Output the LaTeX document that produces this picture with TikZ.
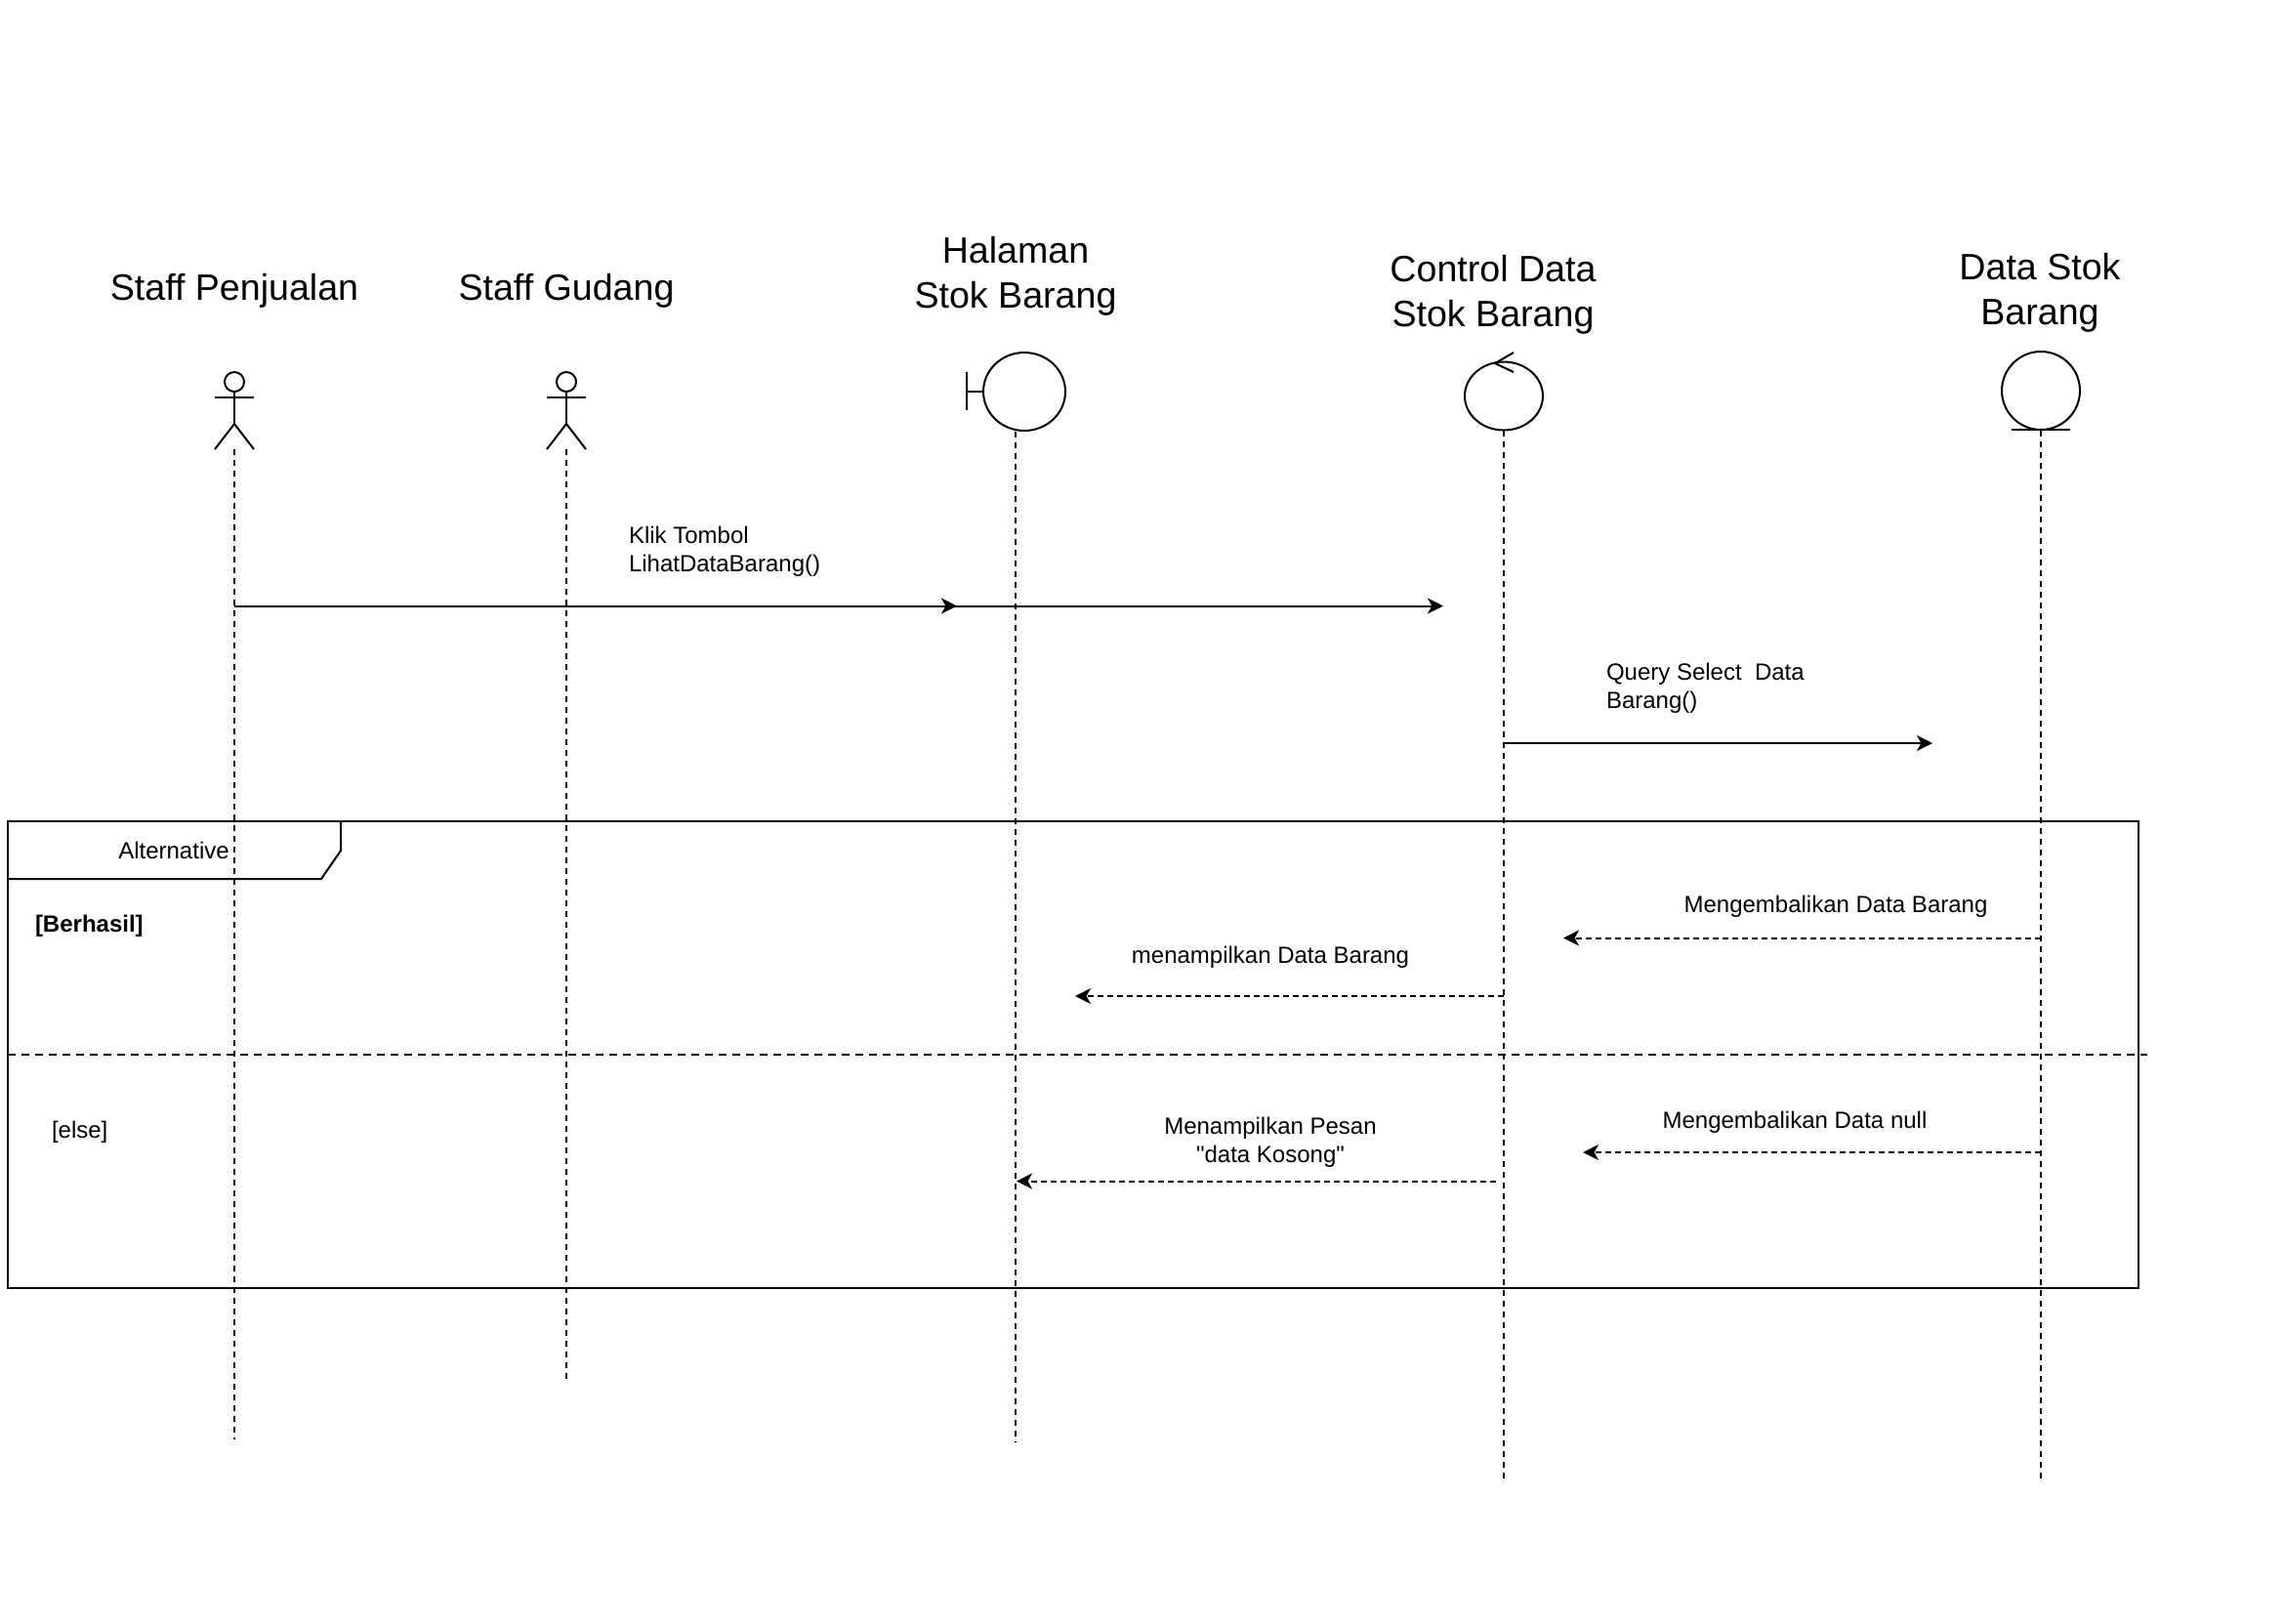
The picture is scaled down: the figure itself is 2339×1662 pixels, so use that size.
\documentclass[tikz,border=0pt]{standalone}
\usepackage{fontspec}
\setmainfont{Liberation Sans}
\usetikzlibrary{arrows.meta}
\newcommand\mydq{\XeTeXglyph\XeTeXglyphindex "quotedbl" \relax}
\begin{document}
\begin{tikzpicture}[x=0.5pt,y=-0.5pt,line width=1pt,
  title/.style={font=\fontsize{18.8}{23}\selectfont, align=center, inner sep=0pt},
  lbl/.style={font=\fontsize{12}{14.4}\selectfont, align=center, inner sep=0pt},
  lblL/.style={font=\fontsize{12}{14.4}\selectfont, align=left, inner sep=0pt, anchor=west},
  lifeline/.style={line width=0.8pt, dash pattern=on 3pt off 2.5pt},
  msg/.style={-{Stealth[length=8pt,width=8pt,inset=2.2pt]}},
  ret/.style={msg, dash pattern=on 3pt off 2pt},
  actor/.pic={
    \draw (0,0) circle[radius=5pt];
    \draw (-20,16) -- (20,16);
    \draw (0,10) -- (0,43);
    \draw (-20,69) -- (0,43) -- (20,69);
  }]
\fill[white] (0,0) rectangle (2339,1662);
\useasboundingbox (0,0) rectangle (2339,1662);

% titles
\node[title] (t1) at (240,298) {Staff Penjualan};
\node[title] (t2) at (580,298) {Staff Gudang};
\node[title] (t3) at (1040,282.5) {Halaman\\Stok Barang};
\node[title] (t4) at (1529,302) {Control Data\\Stok Barang};
\node[title] (t5) at (2089,299.5) {Data Stok\\Barang};

% actors
\pic at (240,391) {actor};
\pic at (580,391) {actor};

% boundary
\draw (990,381) -- (990,420);
\draw (990,401) -- (1007,401);
\draw (1049,401) ellipse [x radius=21pt, y radius=20pt];

% control
\draw (1540,405.5) ellipse [x radius=20pt, y radius=17.5pt];
\draw (1550,361) -- (1531,372) -- (1550,381);

% entity
\draw (2090,400) circle [radius=20pt];
\draw (2060,440) -- (2120,440);

% lifelines
\coordinate (l1t) at (240,460);  \coordinate (l1b) at (240,1474);
\coordinate (l2t) at (580,460);  \coordinate (l2b) at (580,1413);
\coordinate (l3t) at (1040,442); \coordinate (l3b) at (1040,1477);
\coordinate (l4t) at (1540,441); \coordinate (l4b) at (1540,1514);
\coordinate (l5t) at (2090,441); \coordinate (l5b) at (2090,1514);
\draw[lifeline] (l1t) -- (l1b);
\draw[lifeline] (l2t) -- (l2b);
\draw[lifeline] (l3t) -- (l3b);
\draw[lifeline] (l4t) -- (l4b);
\draw[lifeline] (l5t) -- (l5b);

% message 1
\coordinate (m1s) at (240,620.5);
\coordinate (m1a) at (980,620.5);
\coordinate (m1b) at (1478,620.5);
\draw[msg] (m1s) -- (m1b);
\draw[msg] (m1s) -- (m1a);
\node[lblL] (k1) at (643,564.5) {Klik Tombol\\LihatDataBarang()};

% message 2
\coordinate (m2s) at (1540,761);
\coordinate (m2e) at (1979,761);
\draw[msg] (m2s) -- (m2e);
\node[lblL] (k2) at (1644,705) {Query Select\ \ Data\\Barang()};

% alt frame
\draw (8,841) rectangle (2190,1319);
\draw (8,900) -- (329,900) -- (349,871) -- (349,841);
\node[lbl] (alt) at (178,871) {Alternative};
\node[lblL, font=\fontsize{12}{14.4}\selectfont\bfseries] (g1) at (35,948) {[Berhasil]};
\draw[dash pattern=on 4pt off 3pt] (8,1080) -- (2199,1080);
\node[lblL] (g2) at (52,1159) {[else]};

% returns
\coordinate (r1s) at (2090,960.5); \coordinate (r1e) at (1601,960.5);
\draw[ret] (r1s) -- (r1e);
\node[lbl] (k3) at (1880,928) {Mengembalikan Data Barang};

\coordinate (r2s) at (1540,1020); \coordinate (r2e) at (1101,1020);
\draw[ret] (r2s) -- (r2e);
\node[lbl] (k4) at (1301,980) {menampilkan Data Barang};

\coordinate (r3s) at (2090,1180); \coordinate (r3e) at (1621,1180);
\draw[ret] (r3s) -- (r3e);
\node[lbl] (k5) at (1838,1149) {Mengembalikan Data null};

\coordinate (r4s) at (1532,1209.5); \coordinate (r4e) at (1041,1209.5);
\draw[ret] (r4s) -- (r4e);
\node[lbl] (k6) at (1301,1170) {Menampilkan Pesan\\{\mydq}data Kosong{\mydq}};
\end{tikzpicture}
\end{document}
